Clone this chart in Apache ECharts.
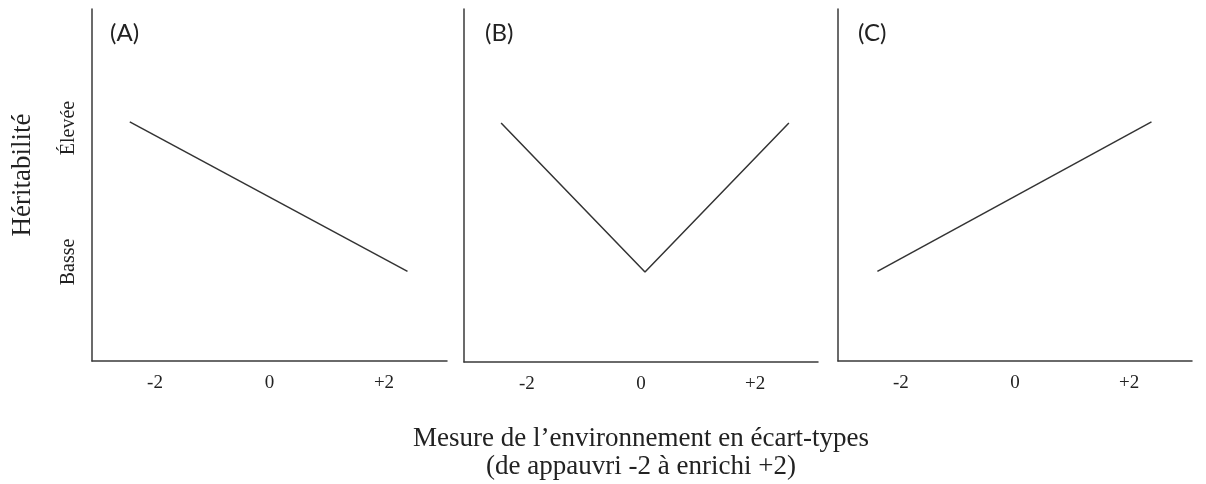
<!DOCTYPE html>
<html>
<head>
<meta charset="utf-8">
<script src="https://cdn.jsdelivr.net/npm/echarts@6/dist/echarts.min.js"></script>
<style>
html,body{margin:0;padding:0;background:#fff;}
#chart{width:1206px;height:484px;}
</style>
</head>
<body>
<div id="chart"></div>
<script>
// ---- data ----
var panelLabels = ['(A)', '(B)', '(C)'];
var xTicks = [-2, 0, 2];
var xTickLabels = ['-2', '0', '+2'];
var yTicks = [0, 1];
var yTickLabels = ['Basse', 'Élevée'];
var seriesA = [[-2.44, 1.045], [2.41, -0.07]];
var seriesB = [[-2.45, 1.04], [0.07, -0.07], [2.59, 1.04]];
var seriesC = [[-2.41, -0.07], [2.39, 1.045]];
var xName = 'Mesure de l\u2019environnement en écart-types\n(de appauvri -2 à enrichi +2)';
var yName = 'Héritabilité';

var serif = 'Liberation Serif';
var axisColor = '#3a3a3a';
var lineColor = '#333333';

var grids = [
  {left: 92, top: 9, width: 355, height: 352, outerBoundsMode: 'none', containLabel: false},
  {left: 464, top: 9, width: 354, height: 353, outerBoundsMode: 'none', containLabel: false},
  {left: 838, top: 9, width: 354, height: 352, outerBoundsMode: 'none', containLabel: false}
];

function xAxisFor(i) {
  var ax = {
    type: 'value', gridIndex: i, min: -3.1, max: 3.1,
    splitLine: {show: false},
    axisLine: {show: true, onZero: false, lineStyle: {color: axisColor, width: 1.5}},
    axisTick: {show: false},
    axisLabel: {
      customValues: xTicks,
      formatter: function (v) { return xTickLabels[xTicks.indexOf(v)]; },
      fontFamily: serif, fontSize: 19, color: '#222', margin: 13
    }
  };
  if (i === 1) {
    ax.name = xName;
    ax.nameLocation = 'middle';
    ax.nameGap = 63;
    ax.nameTextStyle = {fontFamily: serif, fontSize: 27, color: '#222', lineHeight: 28, verticalAlign: 'top'};
  }
  return ax;
}
function yAxisFor(i) {
  return {
    type: 'value', gridIndex: i, min: -0.739, max: 1.888,
    splitLine: {show: false},
    axisLine: {show: true, onZero: false, lineStyle: {color: axisColor, width: 1.5}},
    axisTick: {show: false},
    axisLabel: {
      show: i === 0,
      customValues: yTicks,
      rotate: 90,
      formatter: function (v) { return yTickLabels[yTicks.indexOf(v)]; },
      fontFamily: serif, fontSize: 20, color: '#222', margin: 13
    }
  };
}

var allSeries = [seriesA, seriesB, seriesC];
var option = {
  animation: false,
  backgroundColor: '#fff',
  grid: grids,
  xAxis: [0, 1, 2].map(xAxisFor),
  yAxis: [0, 1, 2].map(yAxisFor),
  series: allSeries.map(function (d, i) {
    return {
      type: 'line', xAxisIndex: i, yAxisIndex: i, data: d,
      symbol: 'none', lineStyle: {color: lineColor, width: 1.5}
    };
  }),
  graphic: [
    {type: 'text', left: 110, top: 21, style: {text: panelLabels[0], font: '24px Lato', fill: '#222'}},
    {type: 'text', left: 485, top: 21, style: {text: panelLabels[1], font: '24px Lato', fill: '#222'}},
    {type: 'text', left: 858, top: 21, style: {text: panelLabels[2], font: '24px Lato', fill: '#222'}},
    {type: 'text', x: 23, y: 175, rotation: Math.PI / 2,
     style: {text: yName, font: '27px "Liberation Serif"', fill: '#222', align: 'center', verticalAlign: 'middle'}}
  ]
};
var chart = echarts.init(document.getElementById('chart'));
chart.setOption(option);
</script>
</body>
</html>
